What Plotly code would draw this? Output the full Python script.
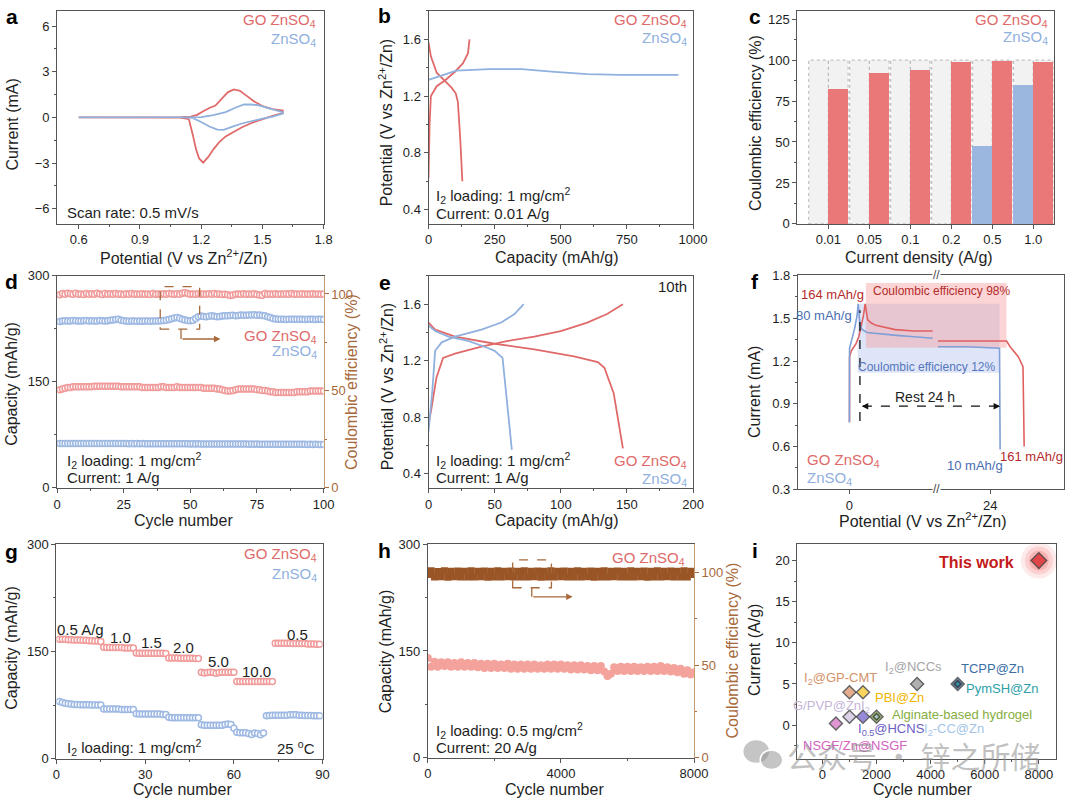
import plotly.graph_objects as go

W, H = 1080, 808
FONT = "Liberation Sans, Arial, sans-serif"
RED = "#e06a6a"
BLUE = "#90b0de"
BROWN = "#a8693b"
CE_BROWN = "#9a5526"
CAP_H = "#f4a29c"
AXC = "#555555"
TXT = "#1e1e1e"
GO = "GO ZnSO<sub>4</sub>"
ZN = "ZnSO<sub>4</sub>"

# ---------------- data ----------------
# (a) CV curves
cv_go_v = [0.60, 0.80, 1.00, 1.10, 1.15, 1.18, 1.21, 1.24, 1.27, 1.30, 1.33, 1.36, 1.39, 1.42, 1.46, 1.50, 1.55, 1.60,
           1.60, 1.55, 1.50, 1.45, 1.40, 1.36, 1.32, 1.29, 1.26, 1.235, 1.21, 1.19, 1.175, 1.16, 1.15, 1.14, 1.10, 0.90, 0.60]
cv_go_i = [0.0, 0.0, 0.0, 0.01, 0.05, 0.17, 0.40, 0.62, 0.78, 1.20, 1.65, 1.84, 1.75, 1.45, 1.05, 0.75, 0.55, 0.45,
           0.28, 0.10, -0.12, -0.35, -0.65, -0.95, -1.25, -1.60, -2.10, -2.60, -2.97, -2.70, -2.10, -1.20, -0.55, -0.12, -0.02, 0.0, 0.0]
cv_zn_v = [0.60, 0.90, 1.10, 1.20, 1.26, 1.32, 1.37, 1.41, 1.44, 1.48, 1.52, 1.56, 1.60,
           1.60, 1.55, 1.50, 1.45, 1.40, 1.35, 1.31, 1.28, 1.24, 1.20, 1.16, 1.10, 0.90, 0.60]
cv_zn_i = [0.0, 0.0, 0.0, 0.02, 0.15, 0.35, 0.65, 0.85, 0.86, 0.80, 0.65, 0.50, 0.35,
           0.25, 0.05, -0.08, -0.22, -0.40, -0.62, -0.82, -0.80, -0.60, -0.30, -0.05, 0.0, 0.0, 0.0]

# (b) first charge/discharge, 0.01 A/g
b_go_chg_cap = [0, 4, 9, 31, 62, 99, 130, 149, 155]
b_go_chg_v = [0.62, 1.00, 1.20, 1.27, 1.31, 1.37, 1.43, 1.50, 1.60]
b_go_dis_cap = [0, 9, 31, 62, 87, 103, 111, 120, 128]
b_go_dis_v = [1.58, 1.48, 1.365, 1.31, 1.26, 1.22, 1.16, 0.90, 0.60]
b_zn_cap = [0, 43, 105, 229, 353, 477, 601, 725, 850, 945]
b_zn_v = [1.315, 1.34, 1.38, 1.39, 1.39, 1.37, 1.355, 1.35, 1.352, 1.35]

# (c) coulombic efficiency vs current density
c_cats = ["0.01", "0.05", "0.1", "0.2", "0.5", "1.0"]
c_go = [82.3, 92.2, 94.2, 99.0, 99.6, 98.6]
c_zn = [0, 0, 0, 0, 47.3, 84.7]

# (d) cycling at 1 A/g
d_cycle = list(range(1, 101))
d_go_cap = [139, 140, 141, 142, 142, 143, 143, 143, 143, 143,
            143, 143, 143, 144, 144, 144, 144, 144, 144, 144,
            144, 144, 144, 143, 143, 143, 143, 143, 143, 143,
            143, 142, 142, 142, 142, 142, 142, 142, 143, 143,
            142, 142, 142, 142, 143, 142, 142, 142, 142, 142,
            142, 142, 142, 142, 141, 141, 141, 141, 141, 140,
            140, 139, 138, 137, 137, 138, 139, 140, 140, 140,
            140, 140, 140, 140, 139, 139, 138, 138, 137, 136,
            136, 135, 135, 135, 135, 135, 135, 135, 135, 136,
            136, 136, 136, 136, 137, 137, 137, 137, 137, 137]
d_zn_cap = [63.0, 62.8, 62.9, 63.0, 62.8, 62.9, 63.0, 62.9, 62.8, 62.9,
            62.9, 62.8, 62.9, 62.8, 62.9, 62.8, 62.8, 62.9, 62.8, 62.7,
            62.8, 62.7, 62.8, 62.7, 62.8, 62.7, 62.6, 62.7, 62.6, 62.7,
            62.6, 62.7, 62.6, 62.5, 62.6, 62.5, 62.6, 62.5, 62.6, 62.5,
            62.5, 62.4, 62.5, 62.4, 62.5, 62.4, 62.4, 62.5, 62.4, 62.3,
            62.4, 62.3, 62.4, 62.3, 62.3, 62.2, 62.3, 62.2, 62.3, 62.2,
            62.2, 62.1, 62.2, 62.1, 62.1, 62.0, 62.1, 62.0, 62.1, 62.0,
            62.0, 61.9, 62.0, 61.9, 62.0, 61.9, 61.8, 61.9, 61.8, 61.9,
            61.8, 61.7, 61.8, 61.7, 61.8, 61.7, 61.7, 61.6, 61.7, 61.6,
            61.6, 61.7, 61.6, 61.5, 61.6, 61.5, 61.6, 61.5, 61.5, 61.5]
d_go_ce = [99.6, 100.2, 99.9, 100.4, 100.1, 99.8, 100.3, 99.9, 100.0, 99.7,
           100.2, 99.9, 100.1, 99.8, 100.3, 100.0, 99.7, 100.2, 99.9, 100.1,
           99.8, 100.2, 99.9, 100.0, 99.7, 100.1, 99.9, 100.2, 99.8, 100.0,
           99.9, 100.1, 99.8, 100.0, 99.7, 100.2, 99.9, 100.0, 99.8, 100.1,
           99.9, 100.2, 100.0, 99.8, 100.1, 99.9, 100.3, 100.6, 100.2, 99.9,
           100.0, 99.8, 100.1, 99.9, 100.0, 99.8, 100.1, 99.9, 100.2, 99.8,
           100.0, 99.7, 99.9, 99.6, 99.2, 99.5, 99.8, 100.0, 99.9, 100.1,
           99.8, 100.0, 99.9, 100.1, 99.7, 99.4, 99.3, 100.2, 99.9, 100.0,
           99.8, 100.1, 99.9, 100.0, 99.8, 100.1, 99.9, 100.2, 99.8, 100.0,
           99.9, 100.1, 99.8, 100.0, 99.9, 100.1, 99.8, 100.0, 99.9, 100.0]
d_zn_ce = [85.8, 86.0, 86.2, 86.1, 86.0, 86.3, 86.2, 86.1, 86.0, 86.2,
           86.3, 86.1, 86.2, 86.0, 86.1, 86.3, 86.2, 86.0, 86.2, 86.4,
           86.6, 86.8, 86.9, 86.5, 86.2, 86.0, 85.9, 86.0, 86.1, 85.9,
           86.0, 85.9, 86.1, 86.0, 85.9, 86.0, 86.1, 86.0, 86.2, 86.3,
           86.5, 86.8, 87.2, 87.6, 87.8, 87.5, 87.0, 86.6, 86.3, 86.2,
           86.4, 87.4, 88.3, 88.6, 88.4, 88.2, 88.5, 88.7, 88.5, 88.3,
           88.4, 88.6, 88.8, 88.7, 88.9, 89.0, 88.8, 88.9, 89.1, 89.0,
           89.0, 89.2, 89.1, 89.3, 89.0, 89.2, 88.9, 88.7, 88.2, 87.8,
           87.4, 87.1, 87.0, 86.9, 87.0, 86.8, 86.9, 87.0, 86.9, 87.0,
           86.9, 87.0, 86.8, 86.9, 87.0, 86.9, 86.8, 87.0, 86.9, 86.8]

# (e) 10th cycle profiles at 1 A/g
e_go_chg_cap = [0, 2, 6, 11, 20, 40, 60, 80, 100, 120, 135, 147]
e_go_chg_v = [0.75, 0.85, 1.08, 1.22, 1.25, 1.30, 1.34, 1.37, 1.41, 1.47, 1.53, 1.60]
e_go_dis_cap = [0, 5, 20, 50, 80, 110, 128, 133, 140, 147]
e_go_dis_v = [1.47, 1.42, 1.37, 1.32, 1.28, 1.23, 1.19, 1.15, 0.97, 0.58]
e_zn_chg_cap = [0, 3, 5, 10, 20, 40, 55, 65, 72]
e_zn_chg_v = [0.70, 1.00, 1.27, 1.33, 1.37, 1.42, 1.47, 1.53, 1.60]
e_zn_dis_cap = [0, 5, 15, 30, 45, 50, 56, 59, 63]
e_zn_dis_v = [1.45, 1.41, 1.37, 1.34, 1.29, 1.27, 1.22, 0.95, 0.57]

# (f) self-discharge test (broken time axis, display hours)
f_go_chg_t = [0.0, 0.02, 0.3, 1.1, 1.6, 2.0, 2.4, 2.68, 2.85, 3.1, 3.6, 4.5, 7.8, 11.0, 14.2]
f_go_chg_y = [0.77, 1.23, 1.27, 1.32, 1.37, 1.44, 1.52, 1.60, 1.55, 1.49, 1.47, 1.45, 1.42, 1.41, 1.41]
f_go_dis_t = [15.1, 20.0, 26.8, 27.4, 28.8, 29.6, 29.7, 29.8]
f_go_dis_y = [1.34, 1.34, 1.34, 1.30, 1.23, 1.16, 0.97, 0.60]
f_zn_chg_t = [0.0, 0.02, 0.4, 0.9, 1.3, 1.5, 1.8, 2.2, 3.0, 5.0, 8.0, 11.0, 14.2]
f_zn_chg_y = [0.77, 1.29, 1.35, 1.43, 1.52, 1.60, 1.45, 1.42, 1.40, 1.39, 1.38, 1.37, 1.36]
f_zn_dis_t = [15.1, 20.0, 25.6, 25.65, 25.7]
f_zn_dis_y = [1.30, 1.30, 1.29, 0.95, 0.58]

# (g) rate performance
g_cycle = list(range(1, 90))
g_go = [167, 167, 167, 166.5, 166.5, 166, 166, 166, 165.5, 165.5, 165, 165, 164.5, 164.5, 164,
        156, 155.5, 155.5, 155.5, 155.5, 155.5, 155.5, 155, 155, 155, 155,
        148, 147.5, 147.5, 147.5, 147.5, 147.5, 147.5, 147.5, 147.5, 147.5, 147,
        141, 141, 141, 141, 140.5, 140.5, 140.5, 140.5, 140.5, 140, 140,
        121, 120, 120.5, 121, 120.5, 119.5, 120.5, 121, 121, 121, 121, 121,
        108, 108, 108, 108, 108, 108, 108, 108, 108, 108, 108, 108, 108,
        161.5, 161.5, 161.5, 161.5, 161.5, 161.5, 161, 161, 161, 161, 161, 160.5, 160.5, 160.5, 160, 160]
g_zn = [80, 78.5, 77.5, 77, 76.5, 76, 76, 75.5, 75.5, 75.5, 75.5, 75, 75, 75, 75,
        69.5, 69.5, 69.5, 69.5, 69.5, 69.5, 69, 69, 69, 69, 69,
        63, 62.5, 62.5, 62.5, 62.5, 62.5, 62.5, 62.5, 62.5, 62, 62,
        58, 57.5, 57.5, 57.5, 57.5, 57.5, 57.5, 57.5, 57.5, 57.5, 57.5,
        47.5, 47, 47, 47, 47, 47, 47, 47, 48, 48.5, 48, 42.5,
        37, 36.5, 36.5, 36.5, 35.5, 34, 36, 35.5, 33.5, 36,
        60, 60.5, 61, 61, 61, 61, 61, 61, 61.5, 61.5, 61.5, 61, 61, 60.5, 60.5, 60.5, 60, 60, 60]
g_rate_labels = ["0.5 A/g", "1.0", "1.5", "2.0", "5.0", "10.0", "0.5"]
g_rate_x = [8.0, 21.8, 32.0, 43.1, 54.8, 67.7, 81.6]
g_rate_y = [180.6, 170, 163, 155, 136, 122.6, 174]

# (h) long cycling at 20 A/g (sampled every 100 cycles)
h_cycle = list(range(0, 8001, 100))
h_cap = [140, 128, 135, 128, 134, 129, 134, 128, 133, 128,
         134, 128, 133, 128, 133, 127, 132, 126, 132, 126,
         132, 126, 131, 126, 132, 125, 131, 125, 131, 125,
         131, 125, 131, 125, 130, 125, 131, 125, 131, 125,
         131, 125, 130, 124, 130, 124, 130, 124, 129, 123,
         129, 123, 129, 121, 115, 118, 127, 122, 128, 122,
         128, 122, 128, 122, 127, 122, 128, 122, 128, 122,
         129, 122, 127, 121, 126, 120, 125, 118, 123, 117, 120]
h_ce = [99.0, 101.0, 97.6, 100.6, 97.8, 101.0, 97.5, 100.8, 97.8, 100.9,
        97.6, 100.8, 97.7, 101.0, 97.6, 100.7, 97.8, 100.9, 97.5, 100.8,
        97.7, 101.0, 97.6, 100.8, 97.8, 100.9, 97.6, 100.7, 97.7, 101.0,
        97.6, 100.8, 97.8, 100.9, 97.5, 100.8, 97.7, 101.0, 97.6, 100.8,
        97.8, 100.9, 97.6, 100.7, 97.7, 101.0, 97.6, 100.8, 97.8, 100.9,
        97.5, 100.8, 97.7, 101.0, 97.6, 100.8, 97.8, 100.9, 97.6, 100.7,
        97.7, 101.0, 97.6, 100.8, 97.8, 100.9, 97.5, 100.8, 97.7, 101.0,
        97.6, 100.8, 97.8, 100.9, 97.6, 100.7, 97.7, 101.0, 97.6, 100.8, 99.0]

# (i) comparison with literature
i_names = ["This work", "I<sub>2</sub>@GP-CMT", "PBI@Zn", "I<sub>2</sub>@NCCs", "TCPP@Zn", "PymSH@Zn",
           "G/PVP@ZnI<sub>2</sub>", "I<sub>0.5</sub>@HCNS", "Alginate-based hydrogel", "I<sub>2</sub>-CC@Zn", "NSGF/Zn@NSGF"]
i_cycles = [8000, 1000, 1500, 3500, 5000, 5000, 1000, 1500, 2000, 2000, 500]
i_current = [20, 4, 4, 5, 5, 5, 1, 1, 1, 1, 0.2]
i_colors = ["#d7191c", "#d98c5f", "#f6c21c", "#8f8f8f", "#234f7c", "#1f9aa8",
            "#cdbfe0", "#6a5bcc", "#7ea63f", "#a9cbeb", "#d669c4"]
i_sizes = [12, 10, 10, 10, 10, 5, 10, 10, 10, 5, 10]
i_label_x = [5697, 667, 2848, 3382, 6303, 6642, 339, 2558, 5176, 4861, 1200]
i_label_y = [19.75, 5.7, 3.4, 7.0, 6.9, 4.5, 2.3, -0.6, 1.3, -0.6, -2.5]
i_label_colors = ["#c41a1a", "#d4936a", "#f0b400", "#a5a5a5", "#3b6ea6", "#2d9fa8",
                  "#c5b5d8", "#6b5ec4", "#86ad3e", "#a3c4ea", "#d462c0"]

# ---------------- layout helpers ----------------
P = {
    1: (54, 325, 4, 221),
    2: (431.7, 700.7, 4, 221),
    3: (806.7, 1068, 4, 221),
    4: (54, 325, 274, 490),
    5: (431.7, 700.7, 274, 490),
    6: (807.3, 1078, 273.5, 491.5),
    7: (53.3, 324, 547.3, 766),
    8: (431, 701.7, 547.3, 765),
    9: (806.7, 1070, 547.3, 766),
}


def xn(k): return "xaxis" if k == 1 else f"xaxis{k}"
def yn(k): return "yaxis" if k == 1 else f"yaxis{k}"
def xr(k): return "x" if k == 1 else f"x{k}"
def yr(k): return "y" if k == 1 else f"y{k}"


def base(**kw):
    d = dict(showline=True, linecolor=AXC, linewidth=1, mirror=True, ticks="outside", ticklen=4,
             tickwidth=1, tickcolor=AXC, tickfont=dict(family=FONT, size=13, color=TXT),
             showgrid=False, zeroline=False, fixedrange=True)
    d.update(kw)
    return d


def lin(t0, dt, mdt, col=AXC):
    return dict(tickmode="linear", tick0=t0, dtick=dt,
                minor=dict(ticks="outside", ticklen=2, tickcolor=col, tick0=t0, dtick=mdt))


axes = {}


def set_panel(k, xrng, yrng, xkw, ykw):
    x0, x1, y0, y1 = P[k]
    axes[xn(k)] = base(domain=[x0 / W, x1 / W], range=xrng, anchor=yr(k), **xkw)
    axes[yn(k)] = base(domain=[1 - y1 / H, 1 - y0 / H], range=yrng, anchor=xr(k), **ykw)


set_panel(1, [0.494, 1.8], [-7, 7], lin(0.6, 0.3, 0.15), lin(-6, 3, 1.5))
set_panel(2, [0, 1000], [0.3, 1.8], lin(0, 250, 125), lin(0.4, 0.4, 0.2))
set_panel(3, [-0.76, 5.51], [0, 130], dict(tickmode="array", tickvals=list(range(len(c_cats))), ticktext=c_cats),
          lin(0, 25, 12.5))
set_panel(4, [0, 100], [0, 300], lin(0, 25, 12.5), dict(mirror=False, **lin(0, 150, 75)))
set_panel(5, [0, 200], [0.3, 1.8], lin(0, 50, 25), lin(0.4, 0.4, 0.2))
set_panel(6, [-8.8, 36.6], [0.3, 1.8], dict(tickmode="array", tickvals=[0, 24]), lin(0.3, 0.3, 0.15))
set_panel(7, [0, 90], [0, 300], lin(0, 30, 15), lin(0, 150, 75))
set_panel(8, [0, 8000], [0, 300], lin(0, 4000, 2000), dict(mirror=False, **lin(0, 150, 75)))
set_panel(9, [-930, 8640], [-4.1, 22], lin(0, 2000, 1000), lin(0, 5, 2.5))

axes["yaxis10"] = base(overlaying="y4", side="right", anchor="x4", range=[0, 109.3], mirror=False,
                       linecolor="#c49a72", tickcolor=BROWN, tickfont=dict(family=FONT, size=13, color=BROWN),
                       **lin(0, 50, 25, BROWN))
axes["yaxis11"] = base(overlaying="y8", side="right", anchor="x8", range=[0, 115.4], mirror=False,
                       linecolor="#c49a72", tickcolor=BROWN, tickfont=dict(family=FONT, size=13, color=BROWN),
                       **lin(0, 50, 25, BROWN))

fig = go.Figure()


def line(k, x, y, color, width=1.8, yref=None):
    fig.add_trace(go.Scatter(x=x, y=y, mode="lines", line=dict(color=color, width=width),
                             xaxis=xr(k), yaxis=yref or yr(k), showlegend=False, hoverinfo="skip"))


# (a)
line(1, cv_go_v, cv_go_i, RED)
line(1, cv_zn_v, cv_zn_i, BLUE)
# (b)
line(2, b_go_chg_cap, b_go_chg_v, RED)
line(2, b_go_dis_cap, b_go_dis_v, RED)
line(2, b_zn_cap, b_zn_v, BLUE)

# (c)
shapes = []
for i in range(len(c_cats)):
    for off in (-0.24, 0.24):
        shapes.append(dict(type="rect", xref="x3", yref="y3", x0=i + off - 0.24, x1=i + off + 0.24, y0=0, y1=100,
                           fillcolor="#f2f2f2", line=dict(color="#b5b5b5", width=1, dash="dot"), layer="below"))
fig.add_trace(go.Bar(x=[i - 0.24 for i in range(len(c_cats))], y=c_zn, width=0.48, marker=dict(color="#9bb7e0", line=dict(width=0)),
                     xaxis="x3", yaxis="y3", showlegend=False, hoverinfo="skip"))
fig.add_trace(go.Bar(x=[i + 0.24 for i in range(len(c_cats))], y=c_go, width=0.48, marker=dict(color="#ea7878", line=dict(width=0)),
                     xaxis="x3", yaxis="y3", showlegend=False, hoverinfo="skip"))


def ring(k, x, y, color, yref=None, size=6):
    fig.add_trace(go.Scatter(x=x, y=y, mode="markers",
                             marker=dict(symbol="circle", size=size, color="#ffffff", line=dict(color=color, width=1.5)),
                             xaxis=xr(k), yaxis=yref or yr(k), showlegend=False, hoverinfo="skip"))


# (d)
ring(4, d_cycle, d_zn_cap, "#9db8e2")
ring(4, d_cycle, d_go_cap, "#f09a9a")
ring(4, d_cycle, d_zn_ce, "#9db8e2", yref="y10")
ring(4, d_cycle, d_go_ce, "#f09a9a", yref="y10")
# (e)
line(5, e_go_chg_cap, e_go_chg_v, RED)
line(5, e_go_dis_cap, e_go_dis_v, RED)
line(5, e_zn_chg_cap, e_zn_chg_v, BLUE)
line(5, e_zn_dis_cap, e_zn_dis_v, BLUE)

# (f)
shapes.append(dict(type="rect", xref="x6", yref="y6", x0=1.4, x1=25.6, y0=1.118, y1=1.602,
                   fillcolor="rgba(160,180,235,0.35)", line=dict(width=0), layer="below"))
shapes.append(dict(type="rect", xref="x6", yref="y6", x0=2.8, x1=26.8, y0=1.293, y1=1.747,
                   fillcolor="rgba(245,150,150,0.40)", line=dict(width=0), layer="below"))
line(6, f_go_chg_t, f_go_chg_y, "#e06060", 1.6)
line(6, f_go_dis_t, f_go_dis_y, "#e06060", 1.6)
line(6, f_zn_chg_t, f_zn_chg_y, "#7f9fd6", 1.6)
line(6, f_zn_dis_t, f_zn_dis_y, "#7f9fd6", 1.6)
shapes.append(dict(type="line", xref="x6", yref="y6", x0=1.79, x1=1.79, y0=0.779, y1=1.556,
                   line=dict(color="#111", width=1.3, dash="dash")))
shapes.append(dict(type="line", xref="x6", yref="y6", x0=2.3, x1=25.5, y0=0.883, y1=0.883,
                   line=dict(color="#111", width=1.3, dash="dash")))

# (g)
ring(7, g_cycle, g_zn, "#9db8e2")
ring(7, g_cycle, g_go, "#f09a9a")

# (h)
fig.add_trace(go.Scatter(x=h_cycle, y=h_cap, mode="markers", marker=dict(symbol="circle", size=8, color=CAP_H),
                         xaxis="x8", yaxis="y8", showlegend=False, hoverinfo="skip"))
fig.add_trace(go.Scatter(x=h_cycle, y=h_ce, mode="markers", marker=dict(symbol="square", size=7, color=CE_BROWN),
                         xaxis="x8", yaxis="y11", showlegend=False, hoverinfo="skip"))

# (i)
for s, a in ((36, 0.10), (28, 0.14), (20, 0.2)):
    fig.add_trace(go.Scatter(x=i_cycles[:1], y=i_current[:1], mode="markers",
                             marker=dict(symbol="circle", size=s, color=f"rgba(240,60,60,{a})", line=dict(width=0)),
                             xaxis="x9", yaxis="y9", showlegend=False, hoverinfo="skip"))
fig.add_trace(go.Scatter(x=i_cycles, y=i_current, mode="markers",
                         marker=dict(symbol="diamond", size=i_sizes, color=i_colors, line=dict(color="#222", width=1.4)),
                         xaxis="x9", yaxis="y9", showlegend=False, hoverinfo="skip"))

# ---------------- annotations ----------------
ann = []


def T(px, py, text, size=15, color=TXT, xa="center", ya="middle", bold=False, angle=0, family=FONT):
    ann.append(dict(x=px / W, y=1 - py / H, xref="paper", yref="paper", text=f"<b>{text}</b>" if bold else text,
                    showarrow=False, font=dict(family=family, size=size, color=color), xanchor=xa, yanchor=ya,
                    textangle=angle))


def D(k, x, y, text, size=13, color=TXT, xa="center", ya="middle", bold=False):
    ann.append(dict(x=x, y=y, xref=xr(k), yref=yr(k), text=f"<b>{text}</b>" if bold else text, showarrow=False,
                    font=dict(family=FONT, size=size, color=color), xanchor=xa, yanchor=ya))


def arrow(k, x, y, ax, ay, color, yref=None):
    ann.append(dict(x=x, y=y, ax=ax, ay=ay, xref=xr(k), yref=yref or yr(k), axref=xr(k), ayref=yref or yr(k),
                    text="", showarrow=True, arrowhead=2, arrowsize=1, arrowwidth=1.3, arrowcolor=color))


# panel letters
for (px, py, s) in [(8, 10, "a"), (387, 9, "b"), (764, 10, "c"), (8, 280, "d"), (387, 281, "e"),
                    (764, 280, "f"), (8, 555, "g"), (387, 554, "h"), (764, 554, "i")]:
    T(px, py, s, 21, "#000", bold=True)

POT = "Potential (V vs Zn<sup>2+</sup>/Zn)"
# axis titles
T(183, 255, POT, 16)
T(9, 120, "Current (mA)", 16, angle=-90)
T(562, 255, "Capacity (mAh/g)", 16)
T(388, 118, POT, 16, angle=-90)
T(930, 255, "Current density (A/g)", 16)
T(765, 118, "Coulombic efficiency (%)", 16, angle=-90)
T(183, 523, "Cycle number", 16)
T(8, 384, "Capacity (mAh/g)", 16, angle=-90)
T(354, 382, "Coulombic efficiency (%)", 16, color=BROWN, angle=-90)
T(562, 523, "Capacity (mAh/g)", 16)
T(389, 387, POT, 16, angle=-90)
T(935, 523, POT, 16)
T(763, 392, "Current (mA)", 16, angle=-90)
T(182, 797, "Cycle number", 16)
T(8, 653, "Capacity (mAh/g)", 16, angle=-90)
T(560, 797, "Cycle number", 16)
T(388, 657, "Capacity (mAh/g)", 16, angle=-90)
T(741, 656, "Coulombic efficiency (%)", 16, color=BROWN, angle=-90)
T(934, 797, "Cycle number", 16)
T(764, 655, "Current (A/g)", 16, angle=-90)

# legends / notes
for (px, py1, py2) in [(319, 14, 33), (697, 14, 32), (1064, 14, 31), (320, 336, 351), (320, 558, 578)]:
    T(px, py1, GO, 15, RED, xa="right")
    T(px, py2, ZN, 15, BLUE, xa="right")
T(697, 463, GO, 15, RED, xa="right")
T(697, 481, ZN, 15, BLUE, xa="right")
T(695, 562, GO, 15, RED, xa="right")

T(62, 209, "Scan rate: 0.5 mV/s", 15, xa="left")
T(437, 192, "I<sub>2</sub> loading: 1 mg/cm<sup>2</sup>", 15, xa="left")
T(437, 210, "Current: 0.01 A/g", 15, xa="left")
T(62, 462, "I<sub>2</sub> loading: 1 mg/cm<sup>2</sup>", 15, xa="left")
T(62, 479, "Current: 1 A/g", 15, xa="left")
T(437, 462, "I<sub>2</sub> loading: 1 mg/cm<sup>2</sup>", 15, xa="left")
T(437, 479, "Current: 1 A/g", 15, xa="left")
T(697, 285, "10th", 15, xa="right")
T(62, 754, "I<sub>2</sub> loading: 1 mg/cm<sup>2</sup>", 15, xa="left")
T(318, 754, "25 <sup>o</sup>C", 15, xa="right")
T(437, 737, "I<sub>2</sub> loading: 0.5 mg/cm<sup>2</sup>", 15, xa="left")
T(437, 754, "Current: 20 A/g", 15, xa="left")

# (d) zoom box + arrow
shapes.append(dict(type="rect", xref="x4", yref="y4", x0=38.7, x1=53.5, y0=224.6, y1=284.7,
                   line=dict(color=BROWN, width=1.3, dash="dash")))
shapes.append(dict(type="line", xref="x4", yref="y4", x0=46.5, x1=46.5, y0=224.6, y1=210.7,
                   line=dict(color=BROWN, width=1.3)))
arrow(4, 61.3, 210.7, 46.5, 210.7, BROWN)
# (h) zoom box + arrow
shapes.append(dict(type="rect", xref="x8", yref="y8", x0=2551, x1=3715, y0=238.8, y1=278,
                   line=dict(color=BROWN, width=1.3, dash="dash")))
shapes.append(dict(type="line", xref="x8", yref="y8", x0=3124, x1=3124, y0=238.8, y1=226,
                   line=dict(color=BROWN, width=1.3)))
arrow(8, 4353, 226, 3124, 226, BROWN)

# (f) labels
DR = "#b52a2a"
DB = "#4a6db3"
D(6, -2.9, 1.666, "164 mAh/g", 13, DR)
D(6, -4.3, 1.517, "80 mAh/g", 13, DB)
D(6, 15.75, 1.694, "Coulombic efficiency 98%", 12, DR)
D(6, 13.3, 1.16, "Coulombic efficiency 12%", 12, "#5576bb")
D(6, 12.85, 0.947, "Rest 24 h", 14, TXT)
D(6, 31.0, 0.533, "161 mAh/g", 13, DR)
D(6, 21.5, 0.464, "10 mAh/g", 13, DB)
D(6, -7.54, 0.503, GO, 15, RED, xa="left")
D(6, -7.54, 0.376, ZN, 15, BLUE, xa="left")
arrow(6, 2.1, 0.883, 3.2, 0.883, "#111")
arrow(6, 25.7, 0.883, 24.6, 0.883, "#111")
for yy in (273.5, 491.5):
    ann.append(dict(x=14.8, y=1 - yy / H, xref="x6", yref="paper", text="//", showarrow=False,
                    font=dict(family=FONT, size=12, color="#444"), bgcolor="white", borderpad=0))

# (g) rate labels
for t, x, y in zip(g_rate_labels, g_rate_x, g_rate_y):
    D(7, x, y, t, 15, TXT)

# (i) labels
for n, x, y, c in zip(i_names, i_label_x, i_label_y, i_label_colors):
    if n == "This work":
        D(9, x, y, n, 16, c, bold=True)
    else:
        D(9, x, y, n, 13, c)

# watermark
shapes.append(dict(type="circle", xref="paper", yref="paper", x0=752 / W, x1=778 / W, y0=1 - 770 / H, y1=1 - 747 / H,
                   fillcolor="rgba(150,150,150,0.55)", line=dict(width=0)))
shapes.append(dict(type="circle", xref="paper", yref="paper", x0=769 / W, x1=792 / W, y0=1 - 777 / H, y1=1 - 757 / H,
                   fillcolor="rgba(150,150,150,0.55)", line=dict(color="white", width=1.5)))
T(925, 762, "公众号 · 锌之所储", 30, "rgba(140,140,140,0.55)", family="Noto Sans CJK SC")

fig.update_layout(width=W, height=H, margin=dict(l=0, r=0, t=0, b=0), paper_bgcolor="white",
                  plot_bgcolor="white", showlegend=False, barmode="overlay", bargap=0,
                  font=dict(family=FONT, color=TXT), shapes=shapes, annotations=ann, **axes)

fig.write_html("out.html")
